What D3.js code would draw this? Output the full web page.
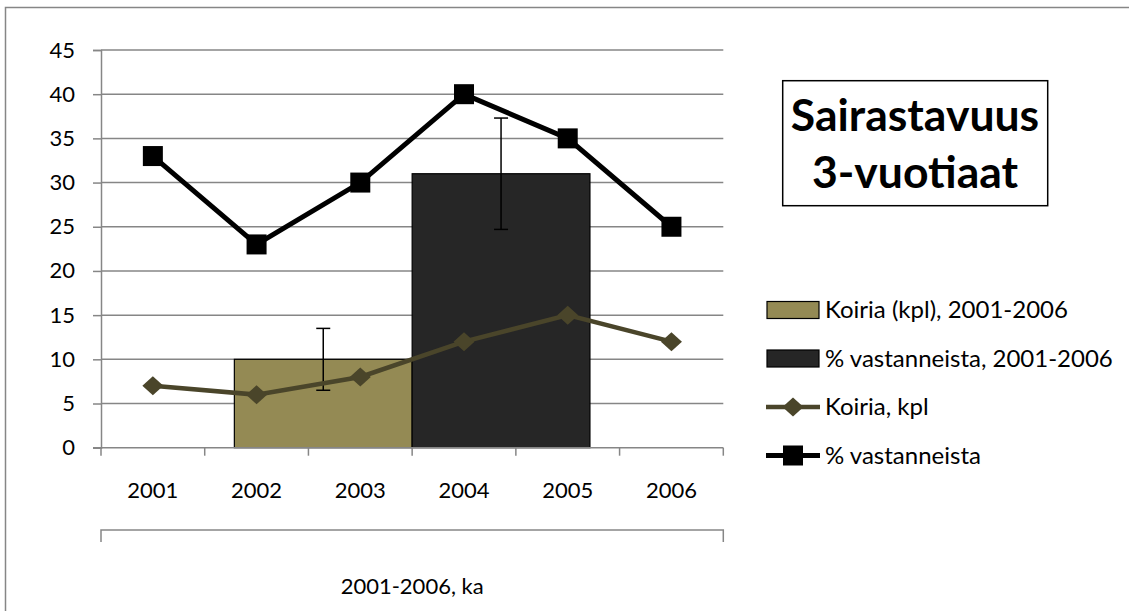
<!DOCTYPE html>
<html>
<head>
<meta charset="utf-8">
<script src="https://cdn.jsdelivr.net/npm/d3@7"></script>
<style>
  body { margin: 0; background: #fff; }
  svg { display: block; font-family: Lato, "Open Sans", sans-serif; }
  .tick text { font-family: Lato, "Open Sans", sans-serif; font-size: 22px; fill: #000; }
</style>
</head>
<body>
<svg id="chart" width="1129" height="611"></svg>
<script>
// Data
const years = ["2001", "2002", "2003", "2004", "2005", "2006"];
const koiria = [7, 6, 8, 12, 15, 12];
const vastanneista = [33, 23, 30, 40, 35, 25];

const barGroups = ["2001-2006, ka"];
const barSeries = ["Koiria (kpl), 2001-2006", "% vastanneista, 2001-2006"];
const barValues = [10, 31];
const barErrors = [3.5, 6.3];

const yTicks = [0, 5, 10, 15, 20, 25, 30, 35, 40, 45];
const lineNames = ["Koiria, kpl", "% vastanneista"];
const titleLines = ["Sairastavuus", "3-vuotiaat"];

const grid = "#868686";
const barColors = ["#948a54", "#262626"];
const koiriaColor = "#4a452a";

const svg = d3.select("#chart");

// outer chart border
svg.append("rect")
    .attr("x", 5.5).attr("y", 7.5)
    .attr("width", 1130).attr("height", 610)
    .attr("fill", "#fff")
    .attr("stroke", grid).attr("stroke-width", 1.5);

const plotL = 101, plotR = 723.3, plotT = 50, plotB = 447.7;

// Scales
const x = d3.scaleBand().domain(years).range([plotL, plotR]);
const y = d3.scaleLinear().domain([0, 45]).range([plotB, plotT]);
const xGroup = d3.scaleBand().domain(barGroups).range([plotL, plotR])
    .paddingInner(0).paddingOuter(0.375);
const xSeries = d3.scaleBand().domain(barSeries).range([0, xGroup.bandwidth()]);

const diamond = (w, h) => `M0,${-h / 2}L${w / 2},0L0,${h / 2}L${-w / 2},0Z`;

// Gridlines + y axis
const yAxis = svg.append("g")
    .attr("transform", `translate(${plotL},0)`)
    .call(d3.axisLeft(y).tickValues(yTicks).tickSize(8).tickPadding(18));
yAxis.select(".domain").attr("stroke", grid).attr("stroke-width", 1.5);
yAxis.selectAll(".tick line").attr("stroke", grid).attr("stroke-width", 1.5);

svg.append("g").selectAll("line")
    .data(yTicks.filter(d => d > 0))
    .join("line")
    .attr("x1", plotL).attr("x2", plotR)
    .attr("y1", d => y(d)).attr("y2", d => y(d))
    .attr("stroke", grid).attr("stroke-width", 1.5);

// Bars
const bars = svg.append("g");
barSeries.forEach((s, i) => {
    const bx = xGroup(barGroups[0]) + xSeries(s);
    bars.append("rect")
        .attr("x", bx)
        .attr("y", y(barValues[i]))
        .attr("width", xSeries.bandwidth())
        .attr("height", y(0) - y(barValues[i]))
        .attr("fill", barColors[i])
        .attr("stroke", "#000").attr("stroke-width", 1.2);
});

// x axis (primary)
const xAxis = svg.append("g")
    .attr("transform", `translate(0,${plotB})`)
    .call(d3.axisBottom(x).tickSize(0).tickPadding(35));
xAxis.select(".domain").remove();
svg.append("line")
    .attr("x1", plotL - 8).attr("x2", plotR)
    .attr("y1", plotB).attr("y2", plotB)
    .attr("stroke", grid).attr("stroke-width", 1.5);
svg.append("g").selectAll("line")
    .data(years.map(d => x(d)).concat([plotR]))
    .join("line")
    .attr("x1", d => d).attr("x2", d => d)
    .attr("y1", plotB).attr("y2", plotB + 8)
    .attr("stroke", grid).attr("stroke-width", 1.5);

// secondary category axis (bracket)
const bY = 530;
const bAxis = svg.append("g")
    .attr("transform", `translate(0,${bY})`)
    .call(d3.axisBottom(xGroup).tickSize(0).tickPadding(48));
bAxis.select(".domain").remove();
svg.append("path")
    .attr("d", `M${plotL},${bY + 12}V${bY}H${plotR}V${bY + 12}`)
    .attr("fill", "none").attr("stroke", grid).attr("stroke-width", 1.5);

// Error bars
const err = svg.append("g").attr("stroke", "#000").attr("stroke-width", 1.5);
barSeries.forEach((s, i) => {
    const ex = xGroup(barGroups[0]) + xSeries(s) + xSeries.bandwidth() / 2;
    const hi = y(barValues[i] + barErrors[i]), lo = y(barValues[i] - barErrors[i]);
    err.append("line").attr("x1", ex).attr("x2", ex).attr("y1", hi).attr("y2", lo);
    err.append("line").attr("x1", ex - 7).attr("x2", ex + 7).attr("y1", hi).attr("y2", hi);
    err.append("line").attr("x1", ex - 7).attr("x2", ex + 7).attr("y1", lo).attr("y2", lo);
});

// Lines
const cx = d => x(d) + x.bandwidth() / 2;
const line = d3.line().x(d => cx(d[0])).y(d => y(d[1]));

svg.append("path")
    .datum(years.map((d, i) => [d, koiria[i]]))
    .attr("d", line)
    .attr("fill", "none").attr("stroke", koiriaColor).attr("stroke-width", 4.5);
svg.append("g").selectAll("path")
    .data(years.map((d, i) => [d, koiria[i]]))
    .join("path")
    .attr("d", diamond(21, 19))
    .attr("transform", d => `translate(${cx(d[0])},${y(d[1])})`)
    .attr("fill", koiriaColor);

svg.append("path")
    .datum(years.map((d, i) => [d, vastanneista[i]]))
    .attr("d", line)
    .attr("fill", "none").attr("stroke", "#000").attr("stroke-width", 5);
svg.append("g").selectAll("rect")
    .data(years.map((d, i) => [d, vastanneista[i]]))
    .join("rect")
    .attr("x", d => cx(d[0]) - 10).attr("y", d => y(d[1]) - 10)
    .attr("width", 20).attr("height", 20)
    .attr("fill", "#000");

// Title box
svg.append("rect")
    .attr("x", 782.7).attr("y", 80.7)
    .attr("width", 265).attr("height", 125)
    .attr("fill", "#fff").attr("stroke", "#000").attr("stroke-width", 1.5);
svg.append("g").selectAll("text")
    .data(titleLines)
    .join("text")
    .attr("x", 915).attr("y", (d, i) => 131 + i * 57)
    .attr("text-anchor", "middle")
    .attr("font-size", 44.5).attr("font-weight", "bold")
    .text(d => d);

// Legend
const legend = svg.append("g").attr("font-size", 24);
const legY = [310, 358.5, 407, 455.5];
barSeries.forEach((s, i) => {
    legend.append("rect")
        .attr("x", 767).attr("y", legY[i] - 8.5)
        .attr("width", 52).attr("height", 17)
        .attr("fill", barColors[i]).attr("stroke", "#000").attr("stroke-width", 1.2);
});
[koiriaColor, "#000"].forEach((c, i) => {
    const ly = legY[i + 2];
    legend.append("line")
        .attr("x1", 766).attr("x2", 820).attr("y1", ly).attr("y2", ly)
        .attr("stroke", c).attr("stroke-width", i === 0 ? 4.5 : 5);
    if (i === 0) {
        legend.append("path")
            .attr("d", diamond(21, 19))
            .attr("transform", `translate(793,${ly})`)
            .attr("fill", c);
    } else {
        legend.append("rect")
            .attr("x", 783).attr("y", ly - 10).attr("width", 20).attr("height", 20)
            .attr("fill", c);
    }
});
legend.selectAll("text")
    .data(barSeries.concat(lineNames))
    .join("text")
    .attr("x", 825).attr("y", (d, i) => legY[i])
    .attr("dy", "0.35em")
    .text(d => d);
</script>
</body>
</html>
